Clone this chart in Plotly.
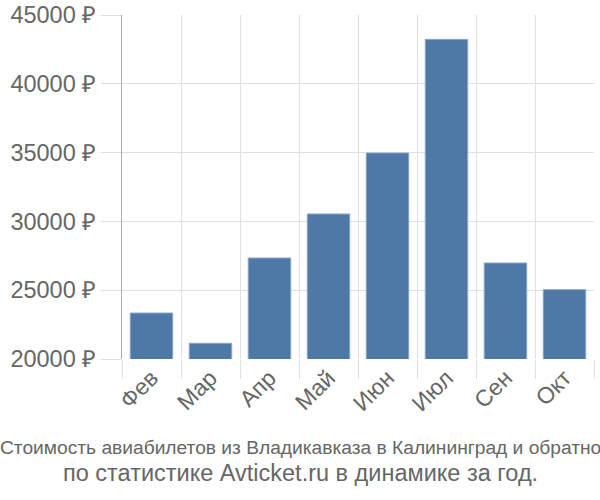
import plotly.graph_objects as go

months = ["Фев", "Мар", "Апр", "Май", "Июн", "Июл", "Сен", "Окт"]
prices = [23340, 21140, 27340, 30540, 34970, 43230, 26980, 25040]
y_ticks = [20000, 25000, 30000, 35000, 40000, 45000]
y_tick_labels = [f"{v} ₽" for v in y_ticks]
title_line1 = "Стоимость авиабилетов из Владикавказа в Калининград и обратно"
title_line2 = "по статистике Avticket.ru в динамике за год."

fig = go.Figure(go.Bar(
    x=months, y=prices, base=0,
    marker=dict(color="#4e79a7", line=dict(color="#8aa6c8", width=1)),
    width=0.72,
))

L, R, T, B = 122, 6, 15, 141
W, H = 600, 500
plot_h = H - T - B
plot_w = W - L - R

def py(pix):
    return (H - B - pix) / plot_h

fig.update_layout(
    width=W, height=H,
    margin=dict(l=L, r=R, t=T, b=B, autoexpand=False),
    paper_bgcolor="white", plot_bgcolor="white",
    showlegend=False,
    font=dict(family="Liberation Sans, Arial, sans-serif", color="#666666"),
    annotations=[
        dict(text=title_line1, x=(300 - L) / plot_w, y=py(447), xref="paper", yref="paper",
             xanchor="center", yanchor="middle", showarrow=False,
             font=dict(family="Liberation Sans, Arial, sans-serif", size=19.2, color="#666666")),
        dict(text=title_line2, x=(300 - L) / plot_w, y=py(473), xref="paper", yref="paper",
             xanchor="center", yanchor="middle", showarrow=False,
             font=dict(family="Liberation Sans, Arial, sans-serif", size=23.5, color="#666666")),
    ],
)

fig.update_xaxes(
    type="category", tickson="boundaries", automargin=False,
    showgrid=True, gridcolor="#e0e0e0", gridwidth=1,
    ticks="outside", ticklen=19, tickcolor="#e0e0e0",
    tickangle=-45, tickfont=dict(size=23, color="#666666"),
    showline=False, zeroline=False,
)
fig.update_yaxes(
    range=[20000, 45000], tickvals=y_ticks, ticktext=y_tick_labels, automargin=False,
    showgrid=True, gridcolor="#e0e0e0", gridwidth=1,
    ticks="outside", ticklen=20, tickcolor="#e0e0e0",
    tickfont=dict(size=23.5, color="#666666"),
    showline=True, linecolor="#aaaaaa", linewidth=1,
    zeroline=False,
)

fig.write_html("out.html")
